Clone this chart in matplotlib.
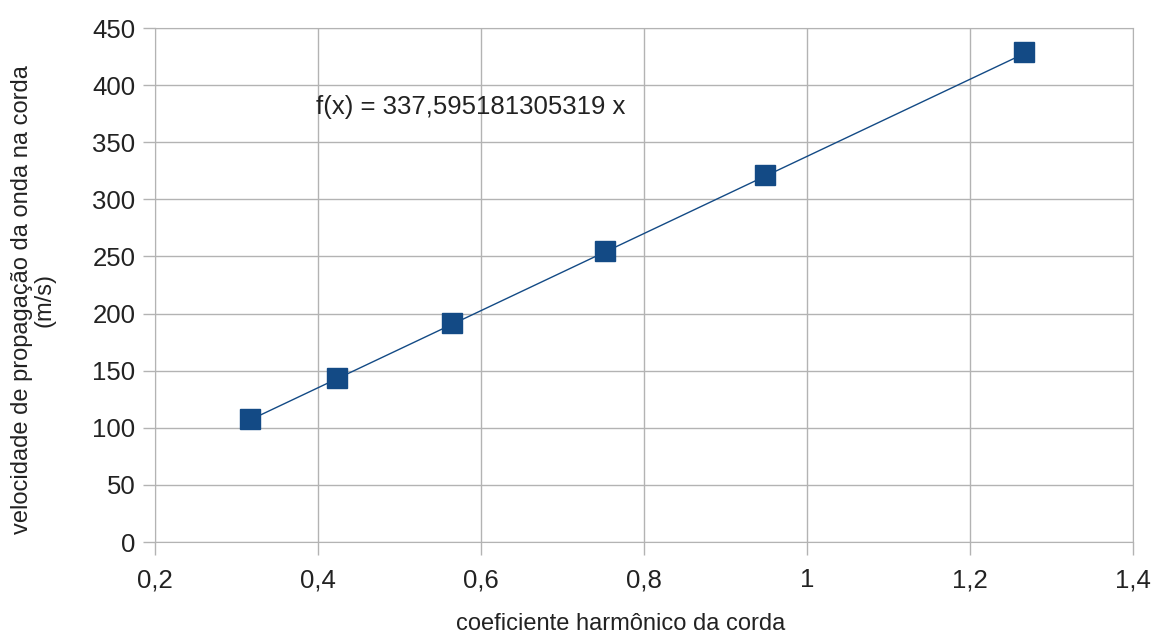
import numpy as np
import matplotlib
matplotlib.use("Agg")
import matplotlib.pyplot as plt
from matplotlib.ticker import FuncFormatter

plt.rcParams['font.family'] = ['Liberation Sans', 'DejaVu Sans']

# ── dados ──────────────────────────────────────
coef = [0.3166, 0.4233, 0.5644, 0.752, 0.9485, 1.266]
veloc = [107.5, 143.5, 191.5, 254.8, 321.0, 429.0]
slope = 337.595181305319
trend_label = "f(x) = 337,595181305319 x"

blue = "#134a85"
grid_c = "#b3b3b3"

fig = plt.figure(figsize=(11.53, 6.35), dpi=100)
ax = fig.add_axes([155 / 1153, 1 - 542 / 635, (1133 - 155) / 1153, (542 - 28) / 635])

# linha de tendência
xt = np.array([min(coef), max(coef)])
ax.plot(xt, slope * xt, color=blue, linewidth=1, zorder=3)
ax.plot(coef, veloc, linestyle="none", marker="s", markersize=14,
        color=blue, zorder=4)

ax.set_xlim(0.2, 1.4)
ax.set_ylim(0, 450)
ax.set_xticks(np.arange(0.2, 1.41, 0.2))
ax.set_yticks(np.arange(0, 451, 50))
ax.xaxis.set_major_formatter(FuncFormatter(lambda v, p: f"{v:g}".replace(".", ",")))

ax.grid(True, color=grid_c, linewidth=1)
ax.set_axisbelow(True)
for s in ax.spines.values():
    s.set_color(grid_c)
ax.tick_params(colors=grid_c, labelcolor="#222222", labelsize=18.5, length=9, width=1)
ax.tick_params(axis="x", pad=10)
ax.tick_params(axis="y", pad=5)

# rótulos dos eixos
fig.text(621 / 1153, 1 - 624 / 635, "coeficiente harmônico da corda",
         fontsize=17, color="#222222", ha="center", va="center")
fig.text(33 / 1153, 1 - 300 / 635, "velocidade de propagação da onda na corda\n(m/s)",
         fontsize=17, color="#222222", ha="center", va="center",
         rotation=90, multialignment="center", linespacing=1.05)

ax.text(0.397, 381, trend_label, fontsize=18.5, color="#222222", va="center")

fig.savefig("out.png", dpi=100)
